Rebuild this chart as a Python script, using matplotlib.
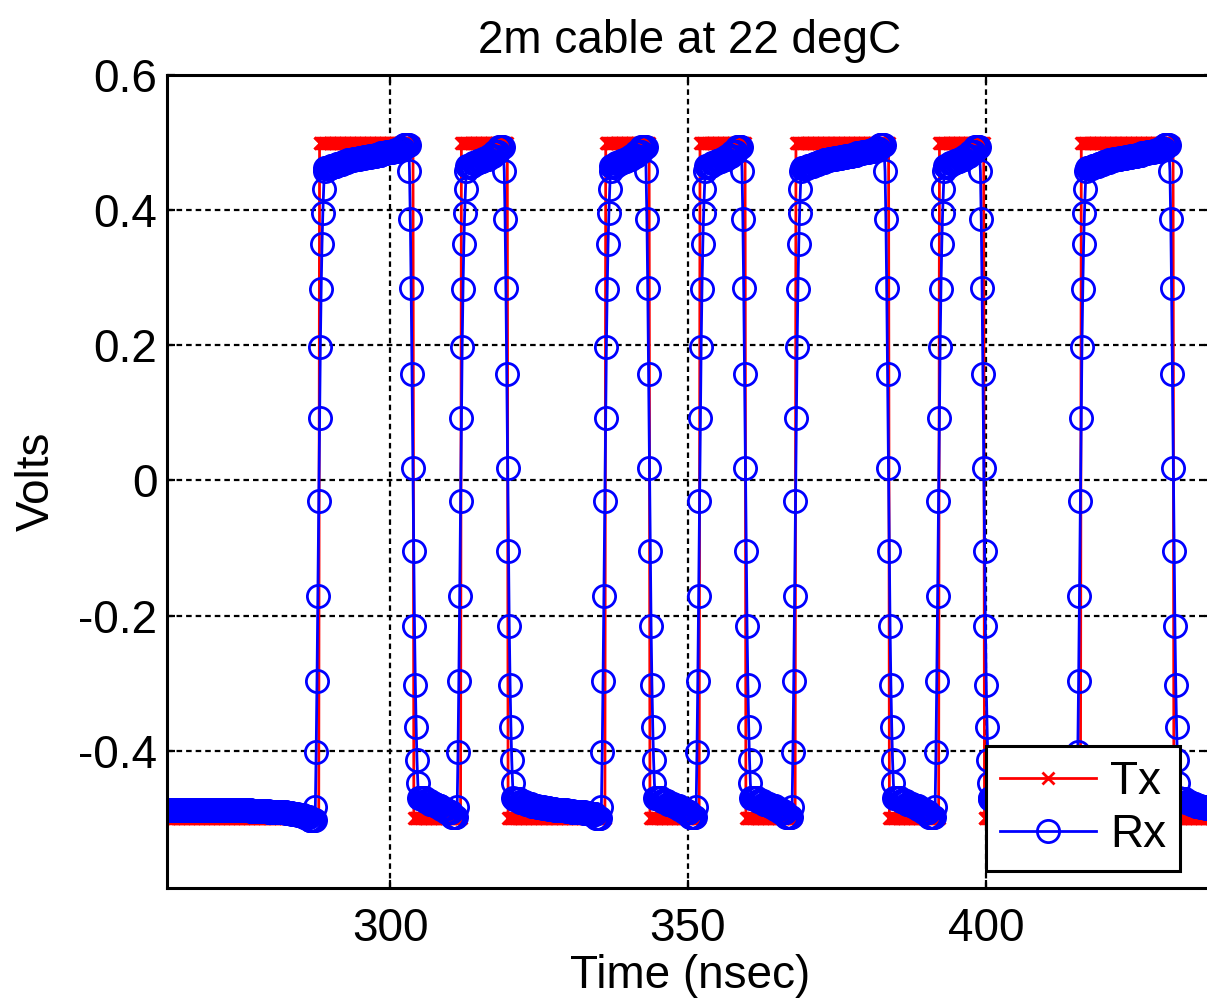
"""
Tx / Rx waveform over a 2 m cable, MATLAB style.
"""

import matplotlib
matplotlib.use("Agg")
import matplotlib.pyplot as plt
import numpy as np

# ---- data ------------------------------------------------------------
dt = 0.14                       # sample step, ns
t_start, t_stop = 262.0, 438.5  # ns

# Tx switching times (ns); starts low, first edge rises
tx_edges = [288.1, 303.9, 311.9, 319.8, 336.1, 343.6, 352.0,
            359.7, 368.1, 383.7, 392.1, 399.7, 415.9, 431.5]
tx_level = 0.5

# Rx samples across an edge (one sample per dt)
rise_shape = [-0.483, -0.402, -0.296, -0.171, -0.031, 0.092,
              0.198, 0.284, 0.350, 0.396, 0.432, 0.458]
fall_shape = [0.458, 0.387, 0.285, 0.157, 0.019, -0.105,
              -0.216, -0.302, -0.365, -0.414, -0.448, -0.470]

# Rx level between edges, about one value per ns
long_high = [0.462, 0.466, 0.469, 0.472, 0.474, 0.476, 0.477, 0.479,
             0.480, 0.482, 0.484, 0.486, 0.488, 0.491, 0.496]
short_high = [0.466, 0.470, 0.473, 0.476, 0.480, 0.486, 0.494]
long_low = [-0.472, -0.476, -0.479, -0.481, -0.483, -0.485, -0.486, -0.487,
            -0.488, -0.489, -0.490, -0.491, -0.492, -0.494, -0.499]
short_low = [-0.470, -0.474, -0.478, -0.482, -0.486, -0.491, -0.498]
first_low = [-0.487, -0.487, -0.487, -0.487, -0.487, -0.487, -0.487,
             -0.487, -0.487, -0.487, -0.487, -0.488, -0.488, -0.488,
             -0.488, -0.489, -0.489, -0.489, -0.490, -0.490, -0.491,
             -0.492, -0.493, -0.495, -0.498, -0.503]
last_low = [-0.472, -0.476, -0.479, -0.481, -0.483, -0.485, -0.486]

rx_plateaus = [first_low, long_high, short_low, short_high, long_low,
               short_high, short_low, short_high, short_low, long_high,
               short_low, short_high, long_low, long_high, last_low]

# ---- build sample series ---------------------------------------------
tx_t = np.arange(t_start, t_stop, dt)
tx_v = np.where(np.searchsorted(tx_edges, tx_t) % 2 == 1, tx_level, -tx_level)

bounds = [t_start] + tx_edges + [t_stop]
rx_t, rx_v = [], []
for k, levels in enumerate(rx_plateaus):
    a = bounds[k] + (7.5 * dt if k > 0 else 0.0)
    b = bounds[k + 1] - (5 * dt if k < len(tx_edges) else 0.0)
    t = np.arange(a, b, dt)
    idx = np.minimum(((t - a) / (b - a) * len(levels)).astype(int), len(levels) - 1)
    rx_t.extend(t)
    rx_v.extend(np.asarray(levels)[idx])
    if k < len(tx_edges):
        shape = rise_shape if k % 2 == 0 else fall_shape
        rx_t.extend(tx_edges[k] + (np.arange(len(shape)) - 4.5) * dt)
        rx_v.extend(shape)

# ---- plot ----------------------------------------------------------------
plt.rcParams['font.family'] = ['Liberation Sans', 'DejaVu Sans']
plt.rcParams['axes.unicode_minus'] = False

fig = plt.figure(figsize=(12.07, 10.01), dpi=100)
ax = fig.add_axes([167 / 1207, 1 - 888 / 1001, 1045.4 / 1207, 813 / 1001])

ax.plot(tx_t, tx_v, color='red', linewidth=2, marker='x',
        markersize=9, markeredgewidth=2, label='Tx')
ax.plot(rx_t, rx_v, color='blue', linewidth=2, marker='o',
        markersize=16, markerfacecolor='none', markeredgewidth=2,
        label='Rx')

ax.set_xlim(262.58, 438.0)
ax.set_ylim(-0.603, 0.6)
ax.set_xticks([300, 350, 400])
ax.set_yticks([-0.4, -0.2, 0, 0.2, 0.4, 0.6])
ax.set_yticklabels(['-0.4', '-0.2', '0', '0.2', '0.4', '0.6'])

ax.grid(True, color='black', linestyle=(0, (2.5, 1.8)), linewidth=1.6)
ax.tick_params(direction='in', length=6, width=1.6, labelsize=33,
               top=True, right=True)
ax.tick_params(axis='x', pad=14)
ax.tick_params(axis='y', pad=7)
for sp in ax.spines.values():
    sp.set_linewidth(2.2)

ax.set_title("2m cable at 22 degC", fontsize=33, pad=16)
ax.set_xlabel("Time (nsec)", fontsize=33, labelpad=2)
ax.set_ylabel("Volts", fontsize=33, labelpad=14)

leg = ax.legend(loc='lower right', bbox_to_anchor=(1180 / 1207, 1 - 871 / 1001),
                bbox_transform=fig.transFigure, fontsize=33, fancybox=False,
                framealpha=1, edgecolor='black', handlelength=2.1,
                handletextpad=0.3, labelspacing=0.2, borderpad=0.3,
                borderaxespad=0)
leg.get_frame().set_linewidth(2.2)

fig.savefig("out.png", dpi=100)
